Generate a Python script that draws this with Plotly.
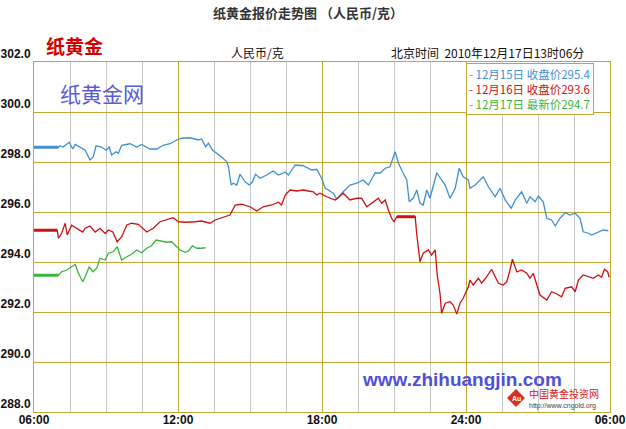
import plotly.graph_objects as go

# minutes after 06:00, values in CNY/gram
blue_t = [0, 61, 65, 73, 88, 97, 103, 115, 128, 140, 148, 155, 169, 180, 188, 194, 205, 211, 219, 240,
          257, 269, 290, 307, 323, 340, 357, 369, 390, 411, 419, 429, 436, 446, 457, 469, 482, 486, 493, 498,
          507, 515, 528, 538, 546, 554, 565, 582, 598, 611, 628, 636, 653, 673, 694, 707, 719, 728, 736, 748,
          757, 773, 790, 807, 823, 836, 853, 865, 878, 890, 903, 911, 923, 932, 938, 948, 957, 965, 973, 982,
          990, 1007, 1019, 1028, 1040, 1053, 1063, 1073, 1086, 1090, 1103, 1123, 1136, 1153, 1165, 1178, 1193,
          1203, 1219, 1232, 1240, 1253, 1261, 1273, 1282, 1294, 1303, 1315, 1328, 1340, 1353, 1365, 1373, 1386,
          1394, 1411, 1423, 1436]
blue_v = [298.59, 298.59, 298.65, 298.6, 298.79, 298.52, 298.7, 298.6, 298.47, 298.08, 298.2, 298.65, 298.6,
          298.47, 298.6, 298.28, 298.41, 298.35, 298.67, 298.73, 298.6, 298.7, 298.52, 298.52, 298.67, 298.73,
          298.88, 298.95, 298.97, 298.88, 298.92, 298.61, 298.75, 298.48, 298.35, 298.2, 298.01, 297.81, 297.08,
          297.15, 297.08, 297.51, 297.21, 297.08, 297.2, 297.51, 297.35, 297.48, 297.64, 297.48, 297.59, 297.48,
          297.88, 297.85, 297.68, 297.71, 297.35, 296.95, 296.88, 296.75, 296.51, 296.81, 297.08, 297.15, 297.28,
          297.08, 297.57, 297.55, 297.75, 297.81, 298.41, 297.95, 297.55, 297.28, 296.41, 296.55, 296.88, 296.35,
          296.28, 296.88, 296.55, 297.57, 297.28, 297.08, 296.55, 296.95, 297.75, 297.41, 297.28, 296.95, 297.08,
          297.41, 297.01, 296.61, 296.95, 296.48, 296.15, 296.48, 296.81, 296.35, 296.61, 296.41, 296.64, 296.41,
          295.75, 295.68, 295.44, 295.75, 295.97, 295.88, 295.95, 295.75, 295.21, 295.15, 295.08, 295.18, 295.28,
          295.25]

red_t = [0, 58, 61, 69, 78, 83, 94, 107, 122, 128, 140, 153, 165, 178, 186, 197, 208, 219, 232, 244, 261, 282,
         298, 315, 332, 348, 361, 378, 403, 419, 440, 453, 469, 490, 503, 519, 540, 557, 573, 594, 611, 619, 628,
         640, 657, 673, 686, 698, 707, 715, 732, 753, 773, 790, 807, 819, 832, 844, 861, 869, 878, 886, 894, 900,
         907, 953, 957, 965, 973, 986, 994, 1003, 1008, 1015, 1019, 1028, 1040, 1048, 1057, 1065, 1073, 1086,
         1090, 1098, 1111, 1119, 1129, 1144, 1153, 1161, 1173, 1182, 1190, 1196, 1207, 1219, 1232, 1240, 1248,
         1257, 1265, 1282, 1294, 1307, 1319, 1328, 1344, 1353, 1361, 1373, 1386, 1398, 1411, 1419, 1426, 1434,
         1438]
red_v = [295.27, 295.27, 294.95, 295.15, 295.55, 295.08, 295.47, 295.35, 295.2, 295.35, 295.44, 295.2, 295.35,
         295.14, 295.28, 295.2, 294.81, 295.0, 295.48, 295.55, 295.51, 295.2, 295.35, 295.61, 295.68, 295.77,
         295.61, 295.59, 295.61, 295.64, 295.55, 295.68, 295.77, 295.88, 296.28, 296.31, 296.21, 296.04, 296.21,
         296.28, 296.39, 296.28, 296.68, 296.88, 296.84, 296.88, 296.84, 296.81, 296.68, 296.75, 296.61, 296.48,
         296.75, 296.48, 296.55, 296.55, 296.21, 296.35, 296.55, 296.35, 296.48, 296.08, 295.75, 295.61, 295.81,
         295.81, 295.08, 294.01, 294.35, 294.48, 294.28, 294.48, 293.48, 292.75, 291.95, 292.35, 292.41, 292.28,
         291.92, 292.35, 292.55, 293.01, 293.28, 293.08, 293.35, 293.15, 293.35, 293.71, 293.41, 293.15, 293.08,
         293.21, 293.68, 294.11, 293.6, 293.68, 293.55, 293.35, 293.55, 293.08, 292.68, 292.48, 292.81, 292.72,
         292.61, 292.95, 293.01, 292.81, 293.28, 293.48, 293.41, 293.35, 293.48, 293.39, 293.71, 293.61, 293.39]

green_t = [0, 61, 69, 82, 94, 103, 111, 122, 128, 138, 147, 157, 165, 178, 186, 198, 208, 219, 232, 244, 257,
           269, 282, 294, 305, 319, 332, 344, 357, 365, 378, 386, 396, 407, 419, 429]
green_v = [293.47, 293.47, 293.61, 293.68, 293.81, 293.9, 293.55, 293.21, 293.41, 293.81, 293.61, 293.75,
           294.15, 294.08, 294.35, 294.41, 294.61, 294.08, 294.21, 294.31, 294.48, 294.37, 294.55, 294.65,
           294.88, 294.84, 294.79, 294.81, 294.61, 294.48, 294.39, 294.44, 294.65, 294.55, 294.55, 294.57]

x_tickvals = [0, 360, 720, 1080, 1440]
x_ticktext = ["06:00", "12:00", "18:00", "24:00", "06:00"]
legend_lines = ["- 12月15日 收盘价295.4", "- 12月16日 收盘价293.6", "- 12月17日 最新价294.7"]

BLUE = "#3f8fd6"
RED = "#cc1111"
GREEN = "#3cb43c"
GOLD = "#c2a632"
GRAY = "#c8c8c8"
CJK = "Noto Sans CJK SC, sans-serif"
LAT = "Liberation Sans, Arial, sans-serif"

fig = go.Figure()
for t, v, c in [(blue_t, blue_v, BLUE), (red_t, red_v, RED), (green_t, green_v, GREEN)]:
    fig.add_trace(go.Scatter(x=t, y=v, mode="lines", line=dict(color=c, width=1.3), hoverinfo="skip"))
    # the flat opening segment is drawn heavier
    fig.add_trace(go.Scatter(x=t[:2], y=v[:2], mode="lines", line=dict(color=c, width=3), hoverinfo="skip"))
# flat segment of the red series
fig.add_trace(go.Scatter(x=red_t[64:66], y=red_v[64:66], mode="lines", line=dict(color=RED, width=3),
                         hoverinfo="skip"))

fig.update_layout(
    width=626, height=429,
    margin=dict(l=34, r=16, t=62, b=17),
    paper_bgcolor="white", plot_bgcolor="white",
    showlegend=False,
    xaxis=dict(range=[0, 1440], tickvals=x_tickvals, ticktext=x_ticktext, automargin=False,
               showgrid=True, gridcolor=GOLD, gridwidth=1, zeroline=False,
               showline=True, linecolor=GOLD, linewidth=1, mirror=True, ticks="",
               ticklabelstandoff=-3,
               tickfont=dict(family=LAT, size=12, color="#111", weight="bold"),
               minor=dict(dtick=90, tick0=0, showgrid=True, gridcolor=GRAY, gridwidth=1)),
    yaxis=dict(range=[288, 302], dtick=2, tick0=288, tickformat=".1f", automargin=False,
               showgrid=True, gridcolor=GOLD, gridwidth=1, zeroline=False,
               showline=True, linecolor=GOLD, linewidth=1, mirror=True, ticks="",
               ticklabelposition="outside top", ticklabelstandoff=0,
               tickfont=dict(family=LAT, size=12, color="#111", weight="bold")),
)


def to_paper_x(px):
    return (px - 34) / 576


def to_paper_y(py):
    return (412 - py) / 350


def A(text, px, py, size, color, family=CJK, xanchor="left", bold=False, **kw):
    return dict(text=("<b>%s</b>" % text) if bold else text,
                x=to_paper_x(px), y=to_paper_y(py), xref="paper", yref="paper",
                showarrow=False, font=dict(family=family, size=size, color=color),
                xanchor=xanchor, yanchor="middle", borderpad=0, **kw)


legend_html = "<br>".join(
    "<span style='color:%s'>%s</span>" % (c, s) for c, s in zip([BLUE, RED, GREEN], legend_lines))

annotations = [
    A("纸黄金报价走势图 （人民币/克）", 308, 12, 13, "#333", bold=True, xanchor="center"),
    A("纸黄金", 45, 46, 19, "#d40000", bold=True),
    A("人民币/克", 230, 52, 12, "#111"),
    A("北京时间  2010年12月17日13时06分", 390, 52, 12, "#111"),
    A("纸黄金网", 59, 93, 21, "#5b5bd6"),
    dict(text=legend_html, x=to_paper_x(466), y=to_paper_y(63), xref="paper", yref="paper",
         showarrow=False, xanchor="left", yanchor="top", align="left",
         font=dict(family=CJK, size=11.5, color="#333"), bgcolor="white",
         bordercolor=GOLD, borderwidth=1, borderpad=2),
    A("www.zhihuangjin.com", 462, 379, 19, "#4f4fd8", family=LAT, bold=True, xanchor="center"),
    A("中国黄金投资网", 528, 393.5, 10, "#d42020"),
    A("http://www.cngold.org", 528, 406, 7, "#444", family=LAT),
    A("Au", 516, 398, 7, "white", family=LAT, xanchor="center", bold=True),
]
fig.update_layout(annotations=annotations)

fig.add_shape(type="path", xref="paper", yref="paper",
              path="M %f %f L %f %f L %f %f L %f %f Z" % (
                  to_paper_x(507), to_paper_y(398), to_paper_x(516), to_paper_y(389),
                  to_paper_x(525), to_paper_y(398), to_paper_x(516), to_paper_y(407)),
              fillcolor="#d83020", line=dict(color="#d83020", width=0), layer="above")

# remove the default 8px page margin so the 626x429 figure fills the window exactly
fig.write_html("out.html", config={"displayModeBar": False, "staticPlot": True},
               post_script="document.body.style.margin='0';document.body.style.overflow='hidden';")
